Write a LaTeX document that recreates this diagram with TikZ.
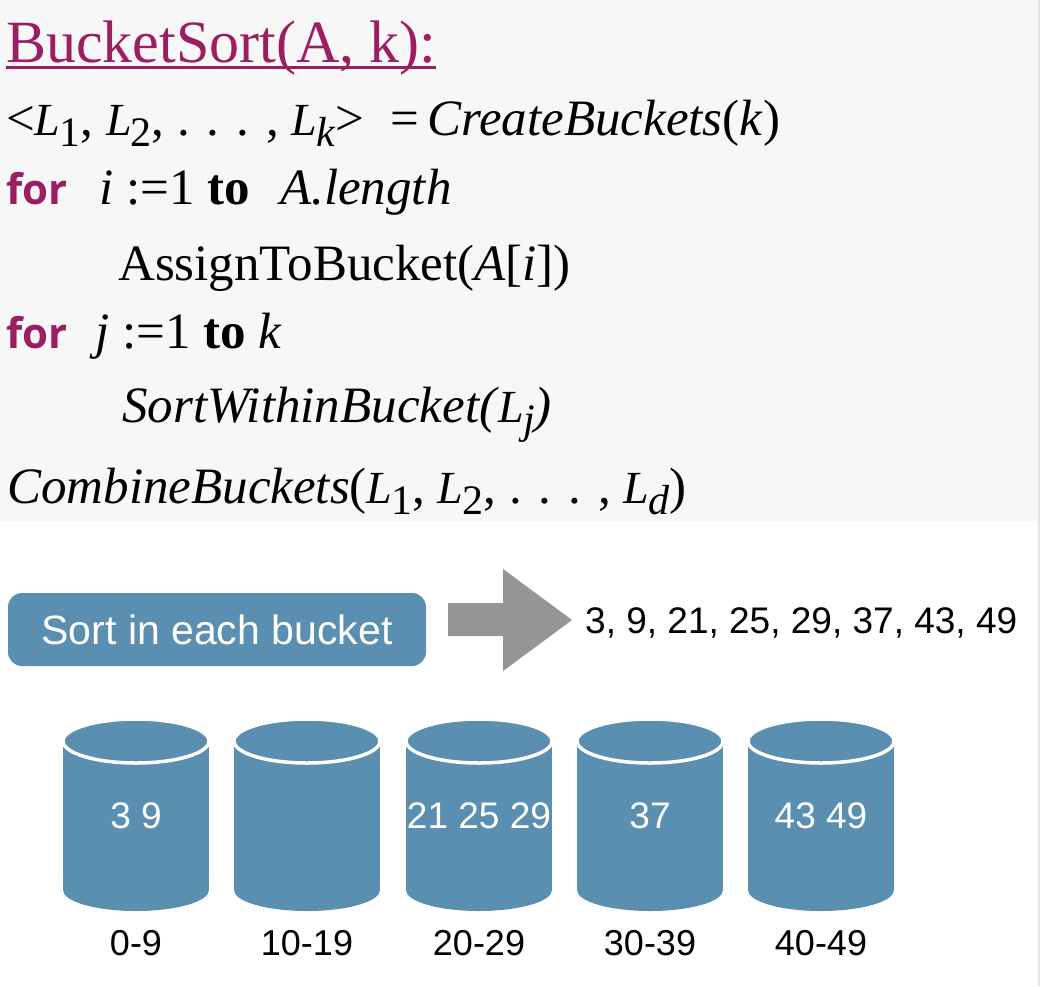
\documentclass[tikz,border=0pt]{standalone}
\usepackage{fontspec}
\setmainfont{Liberation Serif}
\newfontfamily\sansf{Liberation Sans}
\newfontfamily\forf{Open Sans}
\definecolor{purp}{RGB}{156,30,96}
\definecolor{codebg}{RGB}{247,247,247}
\definecolor{bucketblue}{RGB}{90,143,177}
\definecolor{arrowgray}{RGB}{149,149,149}
\definecolor{edgegray}{RGB}{228,228,228}
\newcommand\Ls[1]{{\fontsize{46}{46}\selectfont\textit{L}}\kern-1pt\raisebox{-11pt}{\fontsize{42}{42}\selectfont #1}}
\newcommand\forkw{\textcolor{purp}{\forf\bfseries\fontsize{42}{42}\selectfont for}}
\begin{document}
\begin{tikzpicture}[x=1pt,y=-1pt,
  code/.style={anchor=base west, inner sep=0pt, font=\fontsize{51}{51}\selectfont},
  sortbox/.style={fill=bucketblue, rounded corners=14pt, minimum width=418pt, minimum height=73pt, inner sep=0pt, text=white, font=\sansf\fontsize{41}{41}\selectfont},
  resulttext/.style={anchor=base west, inner sep=0pt, font=\sansf\fontsize{37}{37}\selectfont},
  bucketnum/.style={anchor=base, inner sep=0pt, text=white, font=\sansf\fontsize{37}{37}\selectfont},
  bucketlab/.style={anchor=base, inner sep=0pt, font=\sansf\fontsize{36}{36}\selectfont}
]
\useasboundingbox (0,0) rectangle (1044,986);
\fill[white] (0,0) rectangle (1044,986);
\fill[codebg] (0,0) rectangle (1038,521);
\draw[edgegray, line width=1.5pt] (1039,0) -- (1039,986);

% pseudocode
\node[code, font=\fontsize{60}{60}\selectfont, text=purp] (title) at (6,62) {BucketSort(A, k):};
\draw[purp, line width=2.6pt] ([yshift=-5.5pt]title.base west) -- ([yshift=-5.5pt]title.base east);
\node[code] (l2) at (6,135) {<\Ls{1}, \Ls{2}, . . . , \Ls{\textit{k}}>\hspace{26pt}=\hspace{8pt}\textit{CreateBuckets}(\textit{k})};
\node[code] (l3) at (6,204) {\forkw\hspace{32pt}\textit{i} :=1 \textbf{to}\hspace{30pt}\textit{A.length}};
\node[code] (l4) at (118,280) {AssignToBucket(\textit{A}[\textit{i}])};
\node[code] (l5) at (6,348) {\forkw\hspace{28pt}\textit{j} :=1 \textbf{to} \textit{k}};
\node[code] (l6) at (122,422) {\textit{SortWithinBucket(}\Ls{\textit{j}}\textit{)}};
\node[code] (l7) at (7,503) {\textit{CombineBuckets}(\Ls{1}, \Ls{2}, . . . , \Ls{\textit{d}})};

% sort box, arrow, result
\node[sortbox] (sort) at (217,629.5) {Sort in each bucket};
\fill[arrowgray] (448,603) -- (503,603) -- (503,569) -- (572,620) -- (503,671) -- (503,636) -- (448,636) -- cycle;
\node[resulttext] (sorted) at (585,633) {3, 9, 21, 25, 29, 37, 43, 49};

% buckets
\foreach \i/\cx/\content/\lab in {1/136/3 9/0-9, 2/307//10-19, 3/479/21 25 29/20-29, 4/650/37/30-39, 5/821/43 49/40-49}{
  \fill[bucketblue] (\cx,890) ellipse[x radius=73, y radius=21];
  \fill[bucketblue] (\cx-73,741) rectangle (\cx+73,890);
  \filldraw[fill=bucketblue, draw=white, line width=3.5pt] (\cx,741) ellipse[x radius=73, y radius=22];
  \node[bucketnum] (num\i) at (\cx,828) {\content};
  \node[bucketlab] (lab\i) at (\cx,955) {\lab};
}
\end{tikzpicture}
\end{document}
